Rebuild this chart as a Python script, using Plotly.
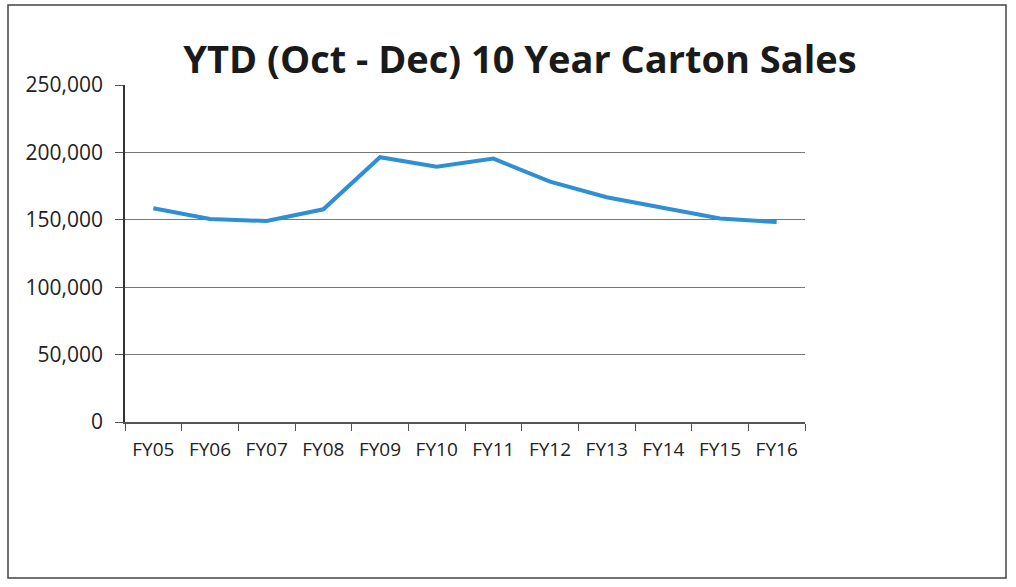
import plotly.graph_objects as go

categories = ["FY05", "FY06", "FY07", "FY08", "FY09", "FY10", "FY11", "FY12", "FY13", "FY14", "FY15", "FY16"]
sales = [158500, 150600, 149100, 157800, 196400, 189400, 195400, 178300, 166700, 159000, 151000, 148300]
y_ticks = [0, 50000, 100000, 150000, 200000, 250000]
y_tick_labels = ["0", "50,000", "100,000", "150,000", "200,000", "250,000"]

fig = go.Figure()
fig.add_trace(go.Scatter(
    x=categories, y=sales, mode="lines",
    line=dict(color="#2F8FD5", width=4),
    showlegend=False,
))

font_family = "Open Sans, Lato, sans-serif"
fig.update_layout(
    width=1016, height=587,
    margin=dict(l=125, r=211, t=85, b=165),
    paper_bgcolor="white", plot_bgcolor="white",
    title=dict(text="<b>YTD (Oct - Dec) 10 Year Carton Sales</b>",
               x=520 / 1016, xanchor="center", y=1 - 60 / 587, yanchor="middle",
               font=dict(family=font_family, size=38, color="#1a1a1a")),
    font=dict(family=font_family, color="#222"),
)
fig.update_xaxes(
    type="category", tickson="boundaries",
    showline=True, linecolor="#555", linewidth=1.5,
    ticks="outside", ticklen=7, tickcolor="#555",
    showgrid=False, tickfont=dict(size=19, color="#222"),
    ticklabelstandoff=9,
    range=[-0.5, 11.5],
)
fig.update_yaxes(
    range=[0, 250000], tickvals=y_ticks, ticktext=y_tick_labels,
    showline=True, linecolor="#333", linewidth=1.5,
    ticks="outside", ticklen=8, tickcolor="#555",
    showgrid=True, gridcolor="#777", gridwidth=1.2,
    zeroline=False, tickfont=dict(size=21, color="#222"),
    ticklabelstandoff=8,
)
fig.add_shape(type="rect", xref="paper", yref="paper",
              x0=-117 / 680, x1=(1006 - 125) / 680,
              y0=-(578 - 422) / 337, y1=(422 - 5) / 337,
              line=dict(color="#444", width=1.5))
fig.write_html("out.html")
